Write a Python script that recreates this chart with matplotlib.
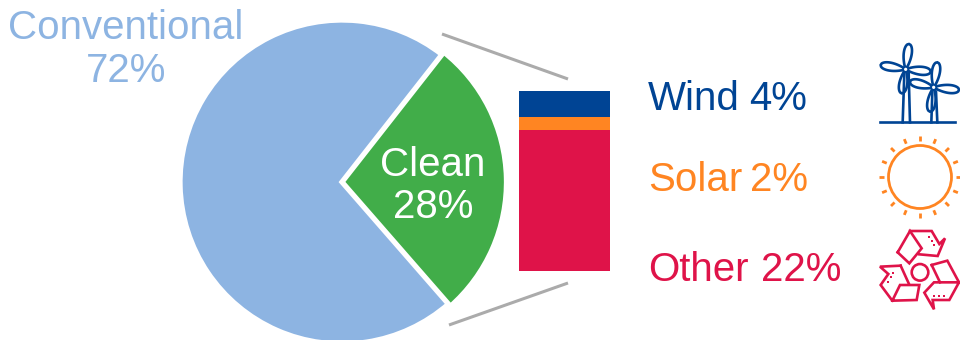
import numpy as np
import matplotlib
matplotlib.use("Agg")
import matplotlib.pyplot as plt
from matplotlib.patches import Circle, Polygon

# 发电结构
share_names = ["Clean", "Conventional"]
share_values = [28, 72]
share_colors = ["#41AD49", "#8DB4E2"]

# 清洁能源拆分,从上到下
clean_names = ["Wind", "Solar", "Other"]
clean_values = [4, 2, 22]
clean_colors = ["#004494", "#FF8522", "#DF1349"]

GREY = "#ABABAB"
plt.rcParams["font.family"] = ["Liberation Sans", "DejaVu Sans"]

fig = plt.figure(figsize=(9.6, 3.4), dpi=100)

# 整张图按像素坐标,y 向下
ax = fig.add_axes([0, 0, 1, 1])
ax.set_xlim(0, 960)
ax.set_ylim(340, 0)
ax.axis("off")

# 饼图单独一个坐标轴,圆心和半径用像素换算
cx, cy, r = 342, 182, 162
ax_pie = fig.add_axes([(cx - r) / 960, (340 - cy - r) / 340, 2 * r / 960, 2 * r / 340])
angle = share_values[0] / sum(share_values) * 360
wedges, _ = ax_pie.pie(
    share_values,
    colors=share_colors,
    startangle=-angle / 2 + 1.5,
    radius=1,
    wedgeprops=dict(edgecolor="white", linewidth=3.8),
)
ax_pie.set_xlim(-1, 1)
ax_pie.set_ylim(-1, 1)
for w in wedges:
    w.set_clip_on(False)
# 绿色扇形略大一点
wedges[0].set_center((-1.5 / r, 0))
wedges[0].set_radius(166 / r)

# 堆叠条
ax_bar = fig.add_axes([519 / 960, (340 - 271) / 340, 91 / 960, 180 / 340])
ax_bar.set_xlim(0, 1)
ax_bar.set_ylim(0, sum(clean_values))
ax_bar.axis("off")
top = sum(clean_values)
for v, c in zip(clean_values, clean_colors):
    top -= v
    ax_bar.bar(0.5, v, bottom=top, width=1, color=c, linewidth=0)

# 连接线
ax.plot([442, 568], [34, 79], color=GREY, lw=2.2, solid_capstyle="butt")
ax.plot([449, 568], [325, 283], color=GREY, lw=2.2, solid_capstyle="butt")

# 文字
fs = 29
ax_top = fig.add_axes([0, 0, 1, 1], facecolor="none")
ax_top.set_xlim(0, 960)
ax_top.set_ylim(340, 0)
ax_top.axis("off")
ax_top.text(126, 28, share_names[1], color=share_colors[1], fontsize=fs, ha="center", va="center")
ax_top.text(126, 71, f"{share_values[1]}%", color=share_colors[1], fontsize=fs, ha="center", va="center")
ax_top.text(433, 165, share_names[0], color="white", fontsize=fs, ha="center", va="center")
ax_top.text(433, 207, f"{share_values[0]}%", color="white", fontsize=fs, ha="center", va="center")
# 名称和数值分开放,间距比普通空格窄
for name, v, c, y, vx in zip(clean_names, clean_values, clean_colors, [99, 180, 270], [749, 750, 761]):
    ax_top.text(648, y, name, color=c, fontsize=fs, ha="left", va="center")
    ax_top.text(vx, y, f"{v}%", color=c, fontsize=fs, ha="left", va="center")


def to_xy(points, ox, oy):
    # 图标草稿是 3 倍尺寸,换回像素
    return [(ox + x / 3, oy + y / 3) for x, y in points]


def petal(hub, tip, w):
    # 风机叶片:靠近叶尖处最宽
    hub = np.array(hub, float)
    tip = np.array(tip, float)
    d = tip - hub
    n = np.array([-d[1], d[0]]) / np.hypot(*d)
    s = np.linspace(0, 1, 40)
    half = w * s**0.9 * (1 - s) ** 0.5
    upper = hub + np.outer(s, d) + np.outer(half, n)
    lower = hub + np.outer(s, d) - np.outer(half, n)
    return np.vstack([upper, lower[::-1]])


# 风机图标
navy = clean_colors[0]
icon_lw = 1.9
wx, wy = 860, 30
ax_top.plot(*zip(*to_xy([(60, 277), (285, 277)], wx, wy)), color=navy, lw=icon_lw)
ax_top.plot(*zip(*to_xy([(128, 277), (133, 130)], wx, wy)), color=navy, lw=icon_lw)
ax_top.plot(*zip(*to_xy([(150, 277), (146, 130)], wx, wy)), color=navy, lw=icon_lw)
ax_top.plot(*zip(*to_xy([(214, 277), (217, 185)], wx, wy)), color=navy, lw=icon_lw)
ax_top.plot(*zip(*to_xy([(232, 277), (228, 185)], wx, wy)), color=navy, lw=icon_lw)
for hub, tips in [
    ((137, 118), [(147, 42), (62, 105), (212, 125), (125, 190)]),
    ((221, 172), [(232, 97), (150, 155), (297, 180), (210, 245)]),
]:
    for tip in tips:
        pts = petal(to_xy([hub], wx, wy)[0], to_xy([tip], wx, wy)[0], 10)
        ax_top.add_patch(Polygon(pts, closed=True, fc="white", ec=navy, lw=icon_lw))
    hx, hy = to_xy([hub], wx, wy)[0]
    ax_top.add_patch(Circle((hx, hy), 2.6, fc="white", ec=navy, lw=1.4))

# 太阳图标
orange = clean_colors[1]
sx, sy = 920, 177
ax_top.add_patch(Circle((sx, sy), 31.5, fc="none", ec=orange, lw=2))
for a in np.arange(16) * np.pi / 8:
    ax_top.plot(
        [sx + 36 * np.cos(a), sx + 41 * np.cos(a)],
        [sy + 36 * np.sin(a), sy + 41 * np.sin(a)],
        color=orange,
        lw=2,
        solid_capstyle="butt",
    )

# 回收图标
red = clean_colors[2]
rx, ry = 860, 220
outlines = [
    [(113, 97), (150, 33), (185, 85), (148, 130), (113, 97)],
    [(150, 33), (215, 33), (238, 72), (255, 55), (233, 108), (178, 103)],
    [(122, 137), (60, 140), (85, 162), (62, 195), (97, 242), (170, 240), (178, 195), (120, 195), (97, 242)],
    [(122, 137), (147, 192)],
    [(215, 135), (262, 122), (297, 187), (222, 187), (193, 218), (222, 268), (218, 240), (268, 240), (297, 187)],
    [(215, 135), (240, 187)],
]
for line in outlines:
    ax_top.plot(*zip(*to_xy(line, rx, ry)), color=red, lw=icon_lw, solid_joinstyle="miter")
ax_top.add_patch(Circle(to_xy([(180, 157)], rx, ry)[0], 8.3, fc="none", ec=red, lw=icon_lw))
dots = [(207, 50), (215, 62), (222, 75), (100, 158), (92, 172), (83, 185), (222, 227), (237, 227), (252, 227)]
ax_top.plot(*zip(*to_xy(dots, rx, ry)), ls="none", marker="s", ms=1.7, color=red, mew=0)

fig.savefig("out.png", dpi=100)
